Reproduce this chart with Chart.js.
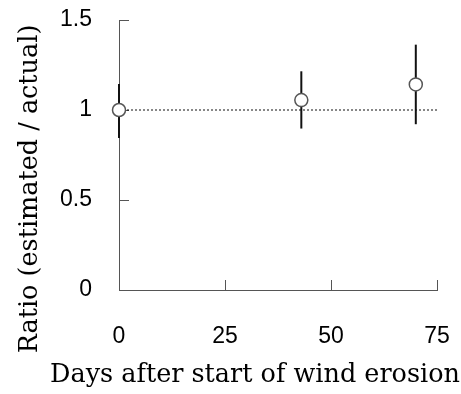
<!DOCTYPE html>
<html>
<head>
<meta charset="utf-8">
<script src="https://cdn.jsdelivr.net/npm/chart.js@4"></script>
<style>
  html, body { margin: 0; padding: 0; background: #fff; }
  #wrap { width: 461px; height: 394px; }
</style>
</head>
<body>
<div id="wrap"><canvas id="chart" width="461" height="394"></canvas></div>
<script>
// data
let days = [0, 43, 70];
let ratio = [1.0, 1.055, 1.142];
let errLow = [0.845, 0.897, 0.921];
let errHigh = [1.145, 1.215, 1.363];
let refX = [0, 75];
let refY = [1, 1];
let xTicks = [0, 25, 50, 75];
let yTicks = [0, 0.5, 1, 1.5];
let xTitle = "Days after start of wind erosion";
let yTitle = "Ratio (estimated / actual)";

let axisColor = "#555";
let titleFont = "25.5px 'DejaVu Serif'";

// error bars, drawn just before the markers
const errorBars = {
    id: "errorBars",
    beforeDatasetDraw(chart, args) {
        if (args.index !== 0) return;
        let ctx = chart.ctx;
        let xs = chart.scales.x, ys = chart.scales.y;
        ctx.save();
        ctx.strokeStyle = "#111";
        ctx.lineWidth = 2;
        days.forEach((d, i) => {
            let px = xs.getPixelForValue(d);
            ctx.beginPath();
            ctx.moveTo(px, ys.getPixelForValue(errLow[i]));
            ctx.lineTo(px, ys.getPixelForValue(errHigh[i]));
            ctx.stroke();
        });
        ctx.restore();
    }
};

// tick marks pointing into the plot
const innerTicks = {
    id: "innerTicks",
    beforeDatasetsDraw(chart) {
        let ctx = chart.ctx;
        let xs = chart.scales.x, ys = chart.scales.y;
        let a = chart.chartArea;
        ctx.save();
        ctx.strokeStyle = axisColor;
        ctx.lineWidth = 1;
        ctx.beginPath();
        yTicks.forEach(v => {
            let py = Math.round(ys.getPixelForValue(v)) + 0.5;
            ctx.moveTo(a.left, py);
            ctx.lineTo(a.left + 10, py);
        });
        xTicks.forEach(v => {
            let px = Math.round(xs.getPixelForValue(v)) + 0.5;
            ctx.moveTo(px, a.bottom);
            ctx.lineTo(px, a.bottom - 10);
        });
        ctx.stroke();
        ctx.restore();
    }
};

// axis titles sit off-centre in the original, so place them by hand
const axisTitles = {
    id: "axisTitles",
    afterDraw(chart) {
        let ctx = chart.ctx;
        ctx.save();
        ctx.fillStyle = "#000";
        ctx.font = titleFont;
        ctx.textAlign = "center";
        ctx.textBaseline = "alphabetic";
        ctx.fillText(xTitle, 255, 382);
        ctx.translate(37, 189);
        ctx.rotate(-Math.PI / 2);
        ctx.fillText(yTitle, 0, 0);
        ctx.restore();
    }
};

chart = new Chart(document.getElementById("chart"), {
    type: "scatter",
    data: {
        datasets: [
            {
                data: days.map((d, i) => ({ x: d, y: ratio[i] })),
                pointRadius: 6.5,
                pointBackgroundColor: "#fff",
                pointBorderColor: "#555",
                pointBorderWidth: 1.5,
                clip: false
            },
            {
                type: "line",
                data: refX.map((x, i) => ({ x: x, y: refY[i] })),
                borderColor: "#111",
                borderWidth: 1,
                borderDash: [2, 2],
                pointRadius: 0,
                clip: false
            }
        ]
    },
    options: {
        responsive: false,
        animation: false,
        layout: { padding: { top: 20, right: 24, left: 0, bottom: 0 } },
        plugins: {
            legend: { display: false },
            tooltip: { enabled: false }
        },
        scales: {
            x: {
                type: "linear",
                min: 0,
                max: 75,
                afterBuildTicks: s => { s.ticks = xTicks.map(v => ({ value: v })); },
                afterFit: s => { s.height = 104; s.paddingLeft = 0; s.paddingRight = 0; },
                grid: { color: "transparent", drawTicks: false },
                border: { color: axisColor, width: 1 },
                ticks: {
                    padding: 33,
                    color: "#000",
                    font: { family: "Liberation Sans", size: 23 },
                    callback: v => String(v)
                }
            },
            y: {
                min: 0,
                max: 1.5,
                afterBuildTicks: s => { s.ticks = yTicks.map(v => ({ value: v })); },
                afterFit: s => { s.width = 119; s.paddingTop = 0; s.paddingBottom = 0; },
                grid: { color: "transparent", drawTicks: false },
                border: { color: axisColor, width: 1 },
                ticks: {
                    padding: 27,
                    color: "#000",
                    font: { family: "Liberation Sans", size: 23 },
                    callback: v => String(v)
                }
            }
        }
    },
    plugins: [errorBars, innerTicks, axisTitles]
});
</script>
</body>
</html>
